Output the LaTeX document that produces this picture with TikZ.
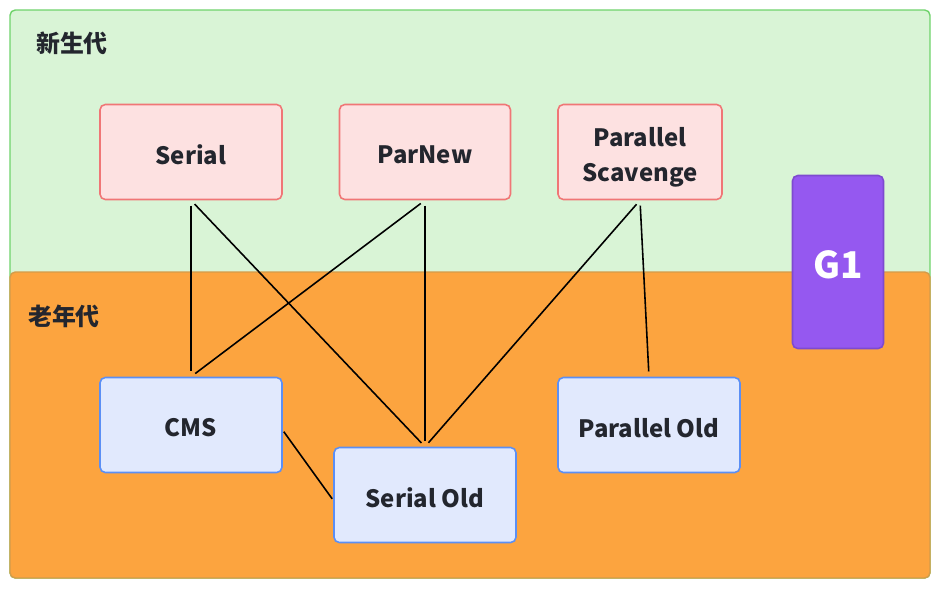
\documentclass[tikz,border=0pt]{standalone}
\usepackage{fontspec}
\setmainfont{Noto Sans CJK SC}
\usetikzlibrary{positioning}

\definecolor{youngfill}{HTML}{D9F4D6}
\definecolor{youngline}{HTML}{6FD36B}
\definecolor{oldfill}{HTML}{FCA43F}
\definecolor{oldline}{HTML}{D39C4A}
\definecolor{redfill}{HTML}{FDE1E1}
\definecolor{redline}{HTML}{F07676}
\definecolor{bluefill}{HTML}{E1E9FD}
\definecolor{blueline}{HTML}{5B8FF5}
\definecolor{gfill}{HTML}{9558F0}
\definecolor{gline}{HTML}{7E4AD0}
\definecolor{textcol}{HTML}{23262E}

% text set a little lower in its box
\newcommand{\dropped}[2][1.7pt]{\raisebox{-#1}[\height][\depth]{#2}}

\begin{document}
\begin{tikzpicture}[
    x=0.02cm, y=-0.02cm,     % 1 unit = 1 pixel of the layout
    font=\fontsize{13.6}{17}\selectfont\bfseries,
    area/.style={rounded corners=3pt, line width=0.8pt},
    gcbox/.style={draw=redline, fill=redfill, rounded corners=3pt, line width=0.9pt,
        minimum width=3.64cm, minimum height=1.9cm, align=center, text=textcol},
    oldbox/.style={draw=blueline, fill=bluefill, rounded corners=3pt, line width=0.9pt,
        minimum width=3.64cm, minimum height=1.9cm, align=center, text=textcol},
    link/.style={black, line width=0.9pt, shorten <=3pt, shorten >=3pt}
]
    \useasboundingbox (0,0) rectangle (940,589);

    % --- regions ---
    \draw [area, draw=youngline, fill=youngfill] (10,10) rectangle (930,578);
    \draw [area, draw=oldline, fill=oldfill] (10,272) rectangle (930,578);
    \node [anchor=west, text=textcol] (young) at (30,43) {新生代};
    \node [anchor=west, text=textcol] (old) at (22,316) {老年代};

    % --- young generation collectors ---
    \node [gcbox, minimum width=3.64cm] (serial) at (191,152) {\dropped{Serial}};
    \node [gcbox, minimum width=3.42cm] (parnew) at (425,152) {\dropped{ParNew}};
    \node [gcbox, minimum width=3.28cm] (pscav) at (640,152)
        {\dropped[2.8pt]{Parallel}\\[3pt]\dropped[2.8pt]{Scavenge}};

    % --- old generation collectors ---
    \node [oldbox] (cms) at (191,425) {\dropped{CMS}};
    \node [oldbox] (serialold) at (425,495) {\dropped{Serial Old}};
    \node [oldbox] (pold) at (649,425) {\dropped{Parallel Old}};

    % --- G1 spans both ---
    \node [draw=gline, fill=gfill, rounded corners=3pt, line width=0.9pt, text=white,
        minimum width=1.82cm, minimum height=3.46cm,
        font=\fontsize{21}{24}\selectfont\bfseries] (g1) at (838,262) {\dropped{G1}};

    % --- combinations ---
    \draw [link] (serial.south) -- (cms.north);
    \draw [link] (serial.south) -- (serialold.north);
    \draw [link] (parnew.south) -- (cms.north);
    \draw [link] (parnew.south) -- (serialold.north);
    \draw [link] (pscav.south) -- (serialold.north);
    \draw [link] (pscav.south) -- (pold.north);
    \draw [link, shorten <=1pt, shorten >=1pt] ([yshift=-3pt]cms.east) -- ([yshift=-3pt]serialold.west);

\end{tikzpicture}
\end{document}
